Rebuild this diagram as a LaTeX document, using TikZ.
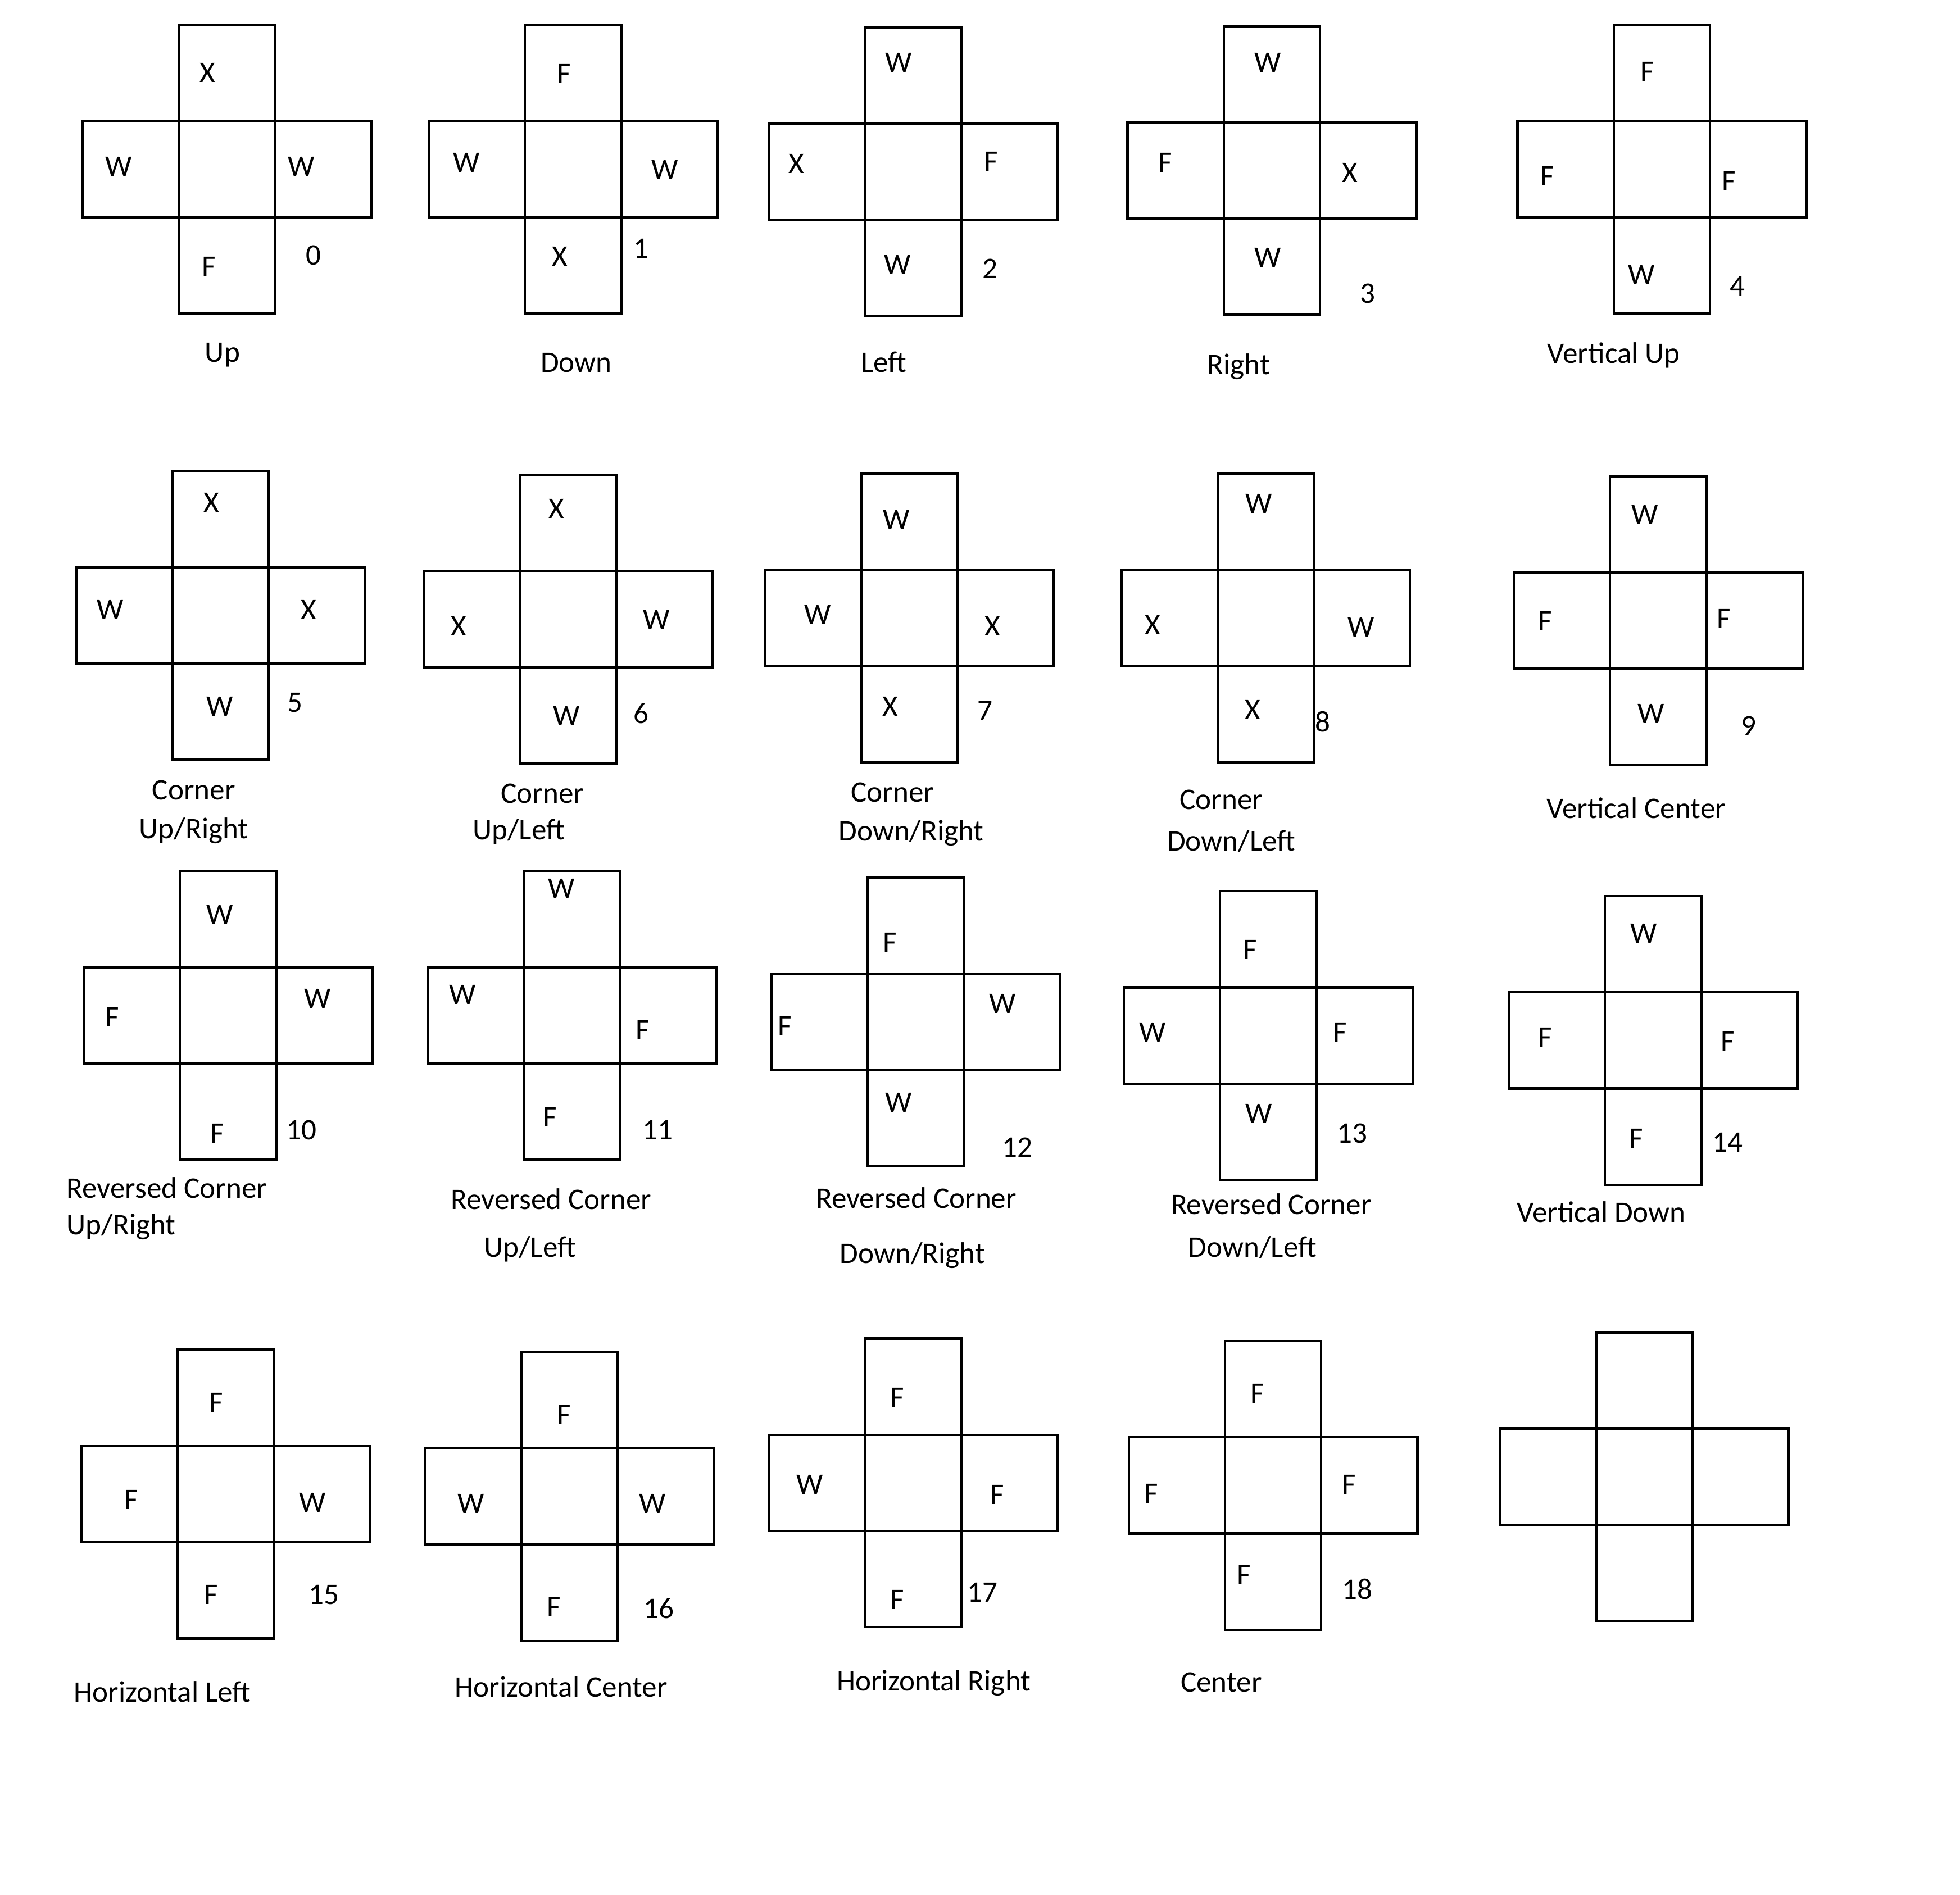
\documentclass[tikz,border=0pt]{standalone}
\usepackage{fontspec}
\setmainfont{Carlito}
\usepackage{tikz}
\usetikzlibrary{positioning}

\begin{document}
\begin{tikzpicture}[x=0.02cm, y=-0.02cm,
      cell/.style={draw=black, line width=1.1pt},
      lab/.style={font=\fontsize{13.6}{16}\selectfont, inner sep=0pt, text height=8.8pt, text depth=0pt}]
    \useasboundingbox (0,0) rectangle (1568,1516);
    % row 1
    \draw[cell] (66,97) rectangle (297,174) (143,20) rectangle (220,251);
    \draw[cell] (343,97) rectangle (574,174) (420,20) rectangle (497,251);
    \draw[cell] (615,99) rectangle (846,176) (692,22) rectangle (769,253);
    \draw[cell] (902,98) rectangle (1133,175) (979,21) rectangle (1056,252);
    \draw[cell] (1214,97) rectangle (1445,174) (1291,20) rectangle (1368,251);
    % row 2
    \draw[cell] (61,454) rectangle (292,531) (138,377) rectangle (215,608);
    \draw[cell] (339,457) rectangle (570,534) (416,380) rectangle (493,611);
    \draw[cell] (612,456) rectangle (843,533) (689,379) rectangle (766,610);
    \draw[cell] (897,456) rectangle (1128,533) (974,379) rectangle (1051,610);
    \draw[cell] (1211,458) rectangle (1442,535) (1288,381) rectangle (1365,612);
    % row 3
    \draw[cell] (67,774) rectangle (298,851) (144,697) rectangle (221,928);
    \draw[cell] (342,774) rectangle (573,851) (419,697) rectangle (496,928);
    \draw[cell] (617,779) rectangle (848,856) (694,702) rectangle (771,933);
    \draw[cell] (899,790) rectangle (1130,867) (976,713) rectangle (1053,944);
    \draw[cell] (1207,794) rectangle (1438,871) (1284,717) rectangle (1361,948);
    % row 4
    \draw[cell] (65,1157) rectangle (296,1234) (142,1080) rectangle (219,1311);
    \draw[cell] (340,1159) rectangle (571,1236) (417,1082) rectangle (494,1313);
    \draw[cell] (615,1148) rectangle (846,1225) (692,1071) rectangle (769,1302);
    \draw[cell] (903,1150) rectangle (1134,1227) (980,1073) rectangle (1057,1304);
    \draw[cell] (1200,1143) rectangle (1431,1220) (1277,1066) rectangle (1354,1297);

    % 0 up
    \node[lab] (t0) at (166,58) {X};
    \node[lab] (l0) at (95,133) {W};
    \node[lab] (r0) at (241,133) {W};
    \node[lab] (b0) at (167,213) {F};
    \node[lab] (n0) at (251,204) {0};
    \node[lab] (d0) at (178,282) {Up};
    % 1 down
    \node[lab] (t1) at (451,59) {F};
    \node[lab] (l1) at (373,130) {W};
    \node[lab] (r1) at (532,136) {W};
    \node[lab] (b1) at (448,205) {X};
    \node[lab] (n1) at (513,199) {1};
    \node[lab] (d1) at (461,290) {Down};
    % 2 left
    \node[lab] (t2) at (719,50) {W};
    \node[lab] (l2) at (637,131) {X};
    \node[lab] (r2) at (793,129) {F};
    \node[lab] (b2) at (718,212) {W};
    \node[lab] (n2) at (792,215) {2};
    \node[lab] (d2) at (707,290) {Left};
    % 3 right
    \node[lab] (t3) at (1014,50) {W};
    \node[lab] (l3) at (932,130) {F};
    \node[lab] (r3) at (1080,138) {X};
    \node[lab] (b3) at (1014,206) {W};
    \node[lab] (n3) at (1094,235) {3};
    \node[lab] (d3) at (991,292) {Right};
    % 4 vertical up
    \node[lab] (t4) at (1318,57) {F};
    \node[lab] (l4) at (1238,141) {F};
    \node[lab] (r4) at (1383,145) {F};
    \node[lab] (b4) at (1313,220) {W};
    \node[lab] (n4) at (1390,229) {4};
    \node[lab] (d4) at (1291,283) {Vertical Up};

    % 5 corner up/right
    \node[lab] (t5) at (169,402) {X};
    \node[lab] (l5) at (88,488) {W};
    \node[lab] (r5) at (247,488) {X};
    \node[lab] (b5) at (176,565) {W};
    \node[lab] (n5) at (236,562) {5};
    \node[lab] (d5a) at (155,632) {Corner};
    \node[lab] (d5b) at (155,663) {Up/Right};
    % 6 corner up/left
    \node[lab] (t6) at (445,407) {X};
    \node[lab] (l6) at (367,501) {X};
    \node[lab] (r6) at (525,496) {W};
    \node[lab] (b6) at (453,573) {W};
    \node[lab] (n6) at (513,571) {6};
    \node[lab] (d6a) at (434,635) {Corner};
    \node[lab] (d6b) at (415,664) {Up/Left};
    % 7 corner down/right
    \node[lab] (t7) at (717,416) {W};
    \node[lab] (l7) at (654,492) {W};
    \node[lab] (r7) at (794,501) {X};
    \node[lab] (b7) at (712,565) {X};
    \node[lab] (n7) at (788,569) {7};
    \node[lab] (d7a) at (714,634) {Corner};
    \node[lab] (d7b) at (729,665) {Down/Right};
    % 8 corner down/left
    \node[lab] (t8) at (1007,403) {W};
    \node[lab] (l8) at (922,500) {X};
    \node[lab] (r8) at (1089,502) {W};
    \node[lab] (b8) at (1002,568) {X};
    \node[lab] (n8) at (1058,578) {8};
    \node[lab] (d8a) at (977,640) {Corner};
    \node[lab] (d8b) at (985,673) {Down/Left};
    % 9 vertical center
    \node[lab] (t9) at (1316,412) {W};
    \node[lab] (l9) at (1236,497) {F};
    \node[lab] (r9) at (1379,495) {F};
    \node[lab] (b9) at (1321,571) {W};
    \node[lab] (n9) at (1399,581) {9};
    \node[lab] (d9) at (1309,647) {Vertical Center};

    % 10 reversed corner up/right
    \node[lab] (t10) at (176,732) {W};
    \node[lab] (l10) at (90,814) {F};
    \node[lab] (r10) at (254,799) {W};
    \node[lab] (b10) at (174,907) {F};
    \node[lab] (n10) at (241,904) {10};
    \node[lab, anchor=west] (d10a) at (53,951) {Reversed Corner};
    \node[lab, anchor=west] (d10b) at (53,980) {Up/Right};
    % 11 reversed corner up/left
    \node[lab] (t11) at (449,711) {W};
    \node[lab] (l11) at (370,796) {W};
    \node[lab] (r11) at (514,824) {F};
    \node[lab] (b11) at (440,894) {F};
    \node[lab] (n11) at (526,904) {11};
    \node[lab] (d11a) at (441,960) {Reversed Corner};
    \node[lab] (d11b) at (424,998) {Up/Left};
    % 12 reversed corner down/right
    \node[lab] (t12) at (712,754) {F};
    \node[lab] (l12) at (628,821) {F};
    \node[lab] (r12) at (802,803) {W};
    \node[lab] (b12) at (719,882) {W};
    \node[lab] (n12) at (814,918) {12};
    \node[lab] (d12a) at (733,959) {Reversed Corner};
    \node[lab] (d12b) at (730,1003) {Down/Right};
    % 13 reversed corner down/left
    \node[lab] (t13) at (1000,760) {F};
    \node[lab] (l13) at (922,826) {W};
    \node[lab] (r13) at (1072,826) {F};
    \node[lab] (b13) at (1007,891) {W};
    \node[lab] (n13) at (1082,907) {13};
    \node[lab] (d13a) at (1017,964) {Reversed Corner};
    \node[lab] (d13b) at (1002,998) {Down/Left};
    % 14 vertical down
    \node[lab] (t14) at (1315,747) {W};
    \node[lab] (l14) at (1236,830) {F};
    \node[lab] (r14) at (1382,833) {F};
    \node[lab] (b14) at (1309,911) {F};
    \node[lab] (n14) at (1382,914) {14};
    \node[lab] (d14) at (1281,970) {Vertical Down};

    % 15 horizontal left
    \node[lab] (t15) at (173,1122) {F};
    \node[lab] (l15) at (105,1200) {F};
    \node[lab] (r15) at (250,1202) {W};
    \node[lab] (b15) at (169,1276) {F};
    \node[lab] (n15) at (259,1276) {15};
    \node[lab] (d15) at (130,1354) {Horizontal Left};
    % 16 horizontal center
    \node[lab] (t16) at (451,1132) {F};
    \node[lab] (l16) at (377,1203) {W};
    \node[lab] (r16) at (522,1203) {W};
    \node[lab] (b16) at (443,1286) {F};
    \node[lab] (n16) at (527,1287) {16};
    \node[lab] (d16) at (449,1350) {Horizontal Center};
    % 17 horizontal right
    \node[lab] (t17) at (718,1118) {F};
    \node[lab] (l17) at (648,1188) {W};
    \node[lab] (r17) at (798,1196) {F};
    \node[lab] (b17) at (718,1280) {F};
    \node[lab] (n17) at (786,1274) {17};
    \node[lab] (d17) at (747,1345) {Horizontal Right};
    % 18 center
    \node[lab] (t18) at (1006,1115) {F};
    \node[lab] (l18) at (921,1195) {F};
    \node[lab] (r18) at (1079,1188) {F};
    \node[lab] (b18) at (995,1260) {F};
    \node[lab] (n18) at (1086,1272) {18};
    \node[lab] (d18) at (977,1346) {Center};
  \end{tikzpicture}
\end{document}
